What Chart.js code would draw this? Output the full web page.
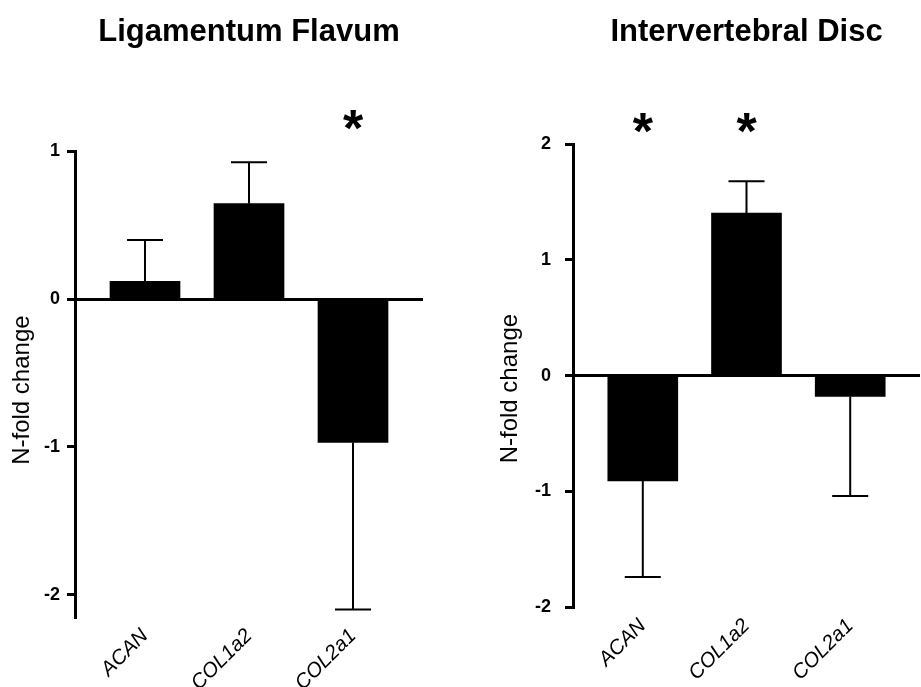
<!DOCTYPE html>
<html>
<head>
<meta charset="utf-8">
<script src="https://cdn.jsdelivr.net/npm/chart.js@4.4.1/dist/chart.umd.min.js"></script>
<style>
  html, body { margin:0; padding:0; background:#fff; }
  body { width:921px; height:687px; position:relative; overflow:hidden; }
  canvas { position:absolute; top:0; }
</style>
</head>
<body>
<canvas id="lf" width="460" height="687" style="left:0px"></canvas>
<canvas id="ivd" width="461" height="687" style="left:460px"></canvas>
<script>
// ---- data ----
const genes = ['ACAN', 'COL1a2', 'COL2a1'];

const lfTitle = 'Ligamentum Flavum';
const lfValues = [0.12, 0.645, -0.97];
const lfErrors = [0.28, 0.28, 1.13];
const lfSig = ['', '', '*'];
const lfTicks = [-2, -1, 0, 1];

const ivdTitle = 'Intervertebral Disc';
const ivdValues = [-0.91, 1.405, -0.18];
const ivdErrors = [0.83, 0.275, 0.86];
const ivdSig = ['*', '*', ''];
const ivdTicks = [-2, -1, 0, 1, 2];

const yTitle = 'N-fold change';

// ---- rendering ----
Chart.defaults.font.family = "'Liberation Sans', Arial, Helvetica, sans-serif";
Chart.defaults.color = '#000';

function makeExtrasPlugin(errors, sig, sigOffset, yTitleX, yTitleShift) {
  return {
    id: 'errAndSig',
    afterDatasetsDraw(chart) {
      const {ctx, scales: {x, y}, chartArea} = chart;
      const data = chart.data.datasets[0].data;
      ctx.save();
      ctx.strokeStyle = '#000';
      ctx.lineWidth = 2;
      data.forEach((d, i) => {
        const v = d.y;
        const end = v + Math.sign(v) * errors[i];
        const px = x.getPixelForValue(d.x);
        const y0 = y.getPixelForValue(v);
        const y1 = y.getPixelForValue(end);
        ctx.beginPath();
        ctx.moveTo(px, y0);
        ctx.lineTo(px, y1);
        ctx.moveTo(px - 18, y1);
        ctx.lineTo(px + 18, y1);
        ctx.stroke();
      });
      ctx.fillStyle = '#000';
      ctx.font = "bold 52px 'Liberation Sans', Arial, sans-serif";
      ctx.textAlign = 'center';
      ctx.textBaseline = 'alphabetic';
      data.forEach((d, i) => {
        if (!sig[i]) return;
        const m = ctx.measureText(sig[i]);
        const target = chartArea.top - sigOffset;
        const base = target + (m.actualBoundingBoxAscent - m.actualBoundingBoxDescent) / 2;
        ctx.fillText(sig[i], x.getPixelForValue(d.x), base);
      });
      // y axis title
      ctx.font = "24px 'Liberation Sans', Arial, sans-serif";
      ctx.textBaseline = 'middle';
      ctx.translate(yTitleX, (chartArea.top + chartArea.bottom) / 2 + yTitleShift);
      ctx.rotate(-Math.PI / 2);
      ctx.fillText(yTitle, 0, 0);
      ctx.restore();
    }
  };
}

function makeChart(id, cfg) {
  return new Chart(document.getElementById(id), {
    type: 'bar',
    data: {
      datasets: [{
        data: cfg.values.map((v, i) => ({x: i, y: v})),
        backgroundColor: '#000',
        borderWidth: 0,
        barThickness: 70
      }]
    },
    options: {
      responsive: false,
      animation: false,
      layout: { padding: { left: 0, right: cfg.padRight, top: 0, bottom: 0 } },
      plugins: {
        legend: { display: false },
        tooltip: { enabled: false },
        title: {
          display: true,
          text: cfg.title,
          fullSize: false,
          color: '#000',
          font: { size: 31, weight: 'bold' },
          padding: { top: 14, bottom: cfg.titleBottom }
        }
      },
      scales: {
        x: {
          type: 'linear',
          offset: false,
          min: -0.673,
          max: 2.673,
          afterFit(scale) { scale.height = cfg.xHeight; },
          afterBuildTicks(scale) { scale.ticks = genes.map((g, i) => ({value: i})); },
          grid: { display: false, drawTicks: false, offset: false },
          border: { display: false },
          ticks: {
            autoSkip: false,
            maxRotation: 45,
            minRotation: 45,
            padding: 7,
            color: '#000',
            font: { size: 20.5, style: 'italic' },
            callback: (v, i) => genes[i]
          }
        },
        y: {
          min: cfg.yMin,
          max: cfg.yMax,
          afterFit(scale) { scale.width = cfg.yWidth; },
          afterBuildTicks(scale) { scale.ticks = cfg.ticks.map(v => ({value: v})); },
          border: { display: true, color: '#000', width: 3 },
          grid: {
            color: c => (c.tick && c.tick.value === 0 ? '#000' : 'rgba(0,0,0,0)'),
            lineWidth: 3,
            tickColor: '#000',
            tickWidth: 3,
            tickLength: 8,
            drawTicks: true
          },
          ticks: {
            padding: cfg.tickPad,
            color: '#000',
            font: { size: 18, weight: 'bold' },
            callback: v => String(v)
          },
          title: { display: false }
        }
      }
    },
    plugins: [makeExtrasPlugin(cfg.errors, cfg.sig, cfg.sigOffset, cfg.yTitleX, cfg.yTitleShift)]
  });
}

makeChart('lf', {
  title: lfTitle, values: lfValues, errors: lfErrors, sig: lfSig, ticks: lfTicks,
  yMin: -2.15, yMax: 1, padRight: 37, titleBottom: 100, xHeight: 70,
  yWidth: 75, tickPad: 7, sigOffset: 31.5, yTitleX: 22, yTitleShift: 6
});

makeChart('ivd', {
  title: ivdTitle, values: ivdValues, errors: ivdErrors, sig: ivdSig, ticks: ivdTicks,
  yMin: -2, yMax: 2, padRight: 1, titleBottom: 93, xHeight: 80,
  yWidth: 113, tickPad: 14, sigOffset: 21.5, yTitleX: 50, yTitleShift: 13
});
</script>
</body>
</html>
